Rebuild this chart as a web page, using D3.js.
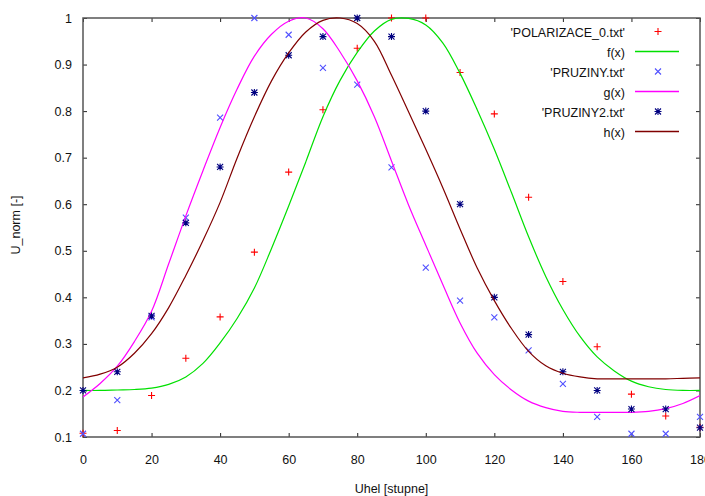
<!DOCTYPE html>
<html>
<head>
<meta charset="utf-8">
<script src="https://cdn.jsdelivr.net/npm/d3@7"></script>
<style>
  body { margin: 0; background: #fff; }
  text { font-family: "Liberation Sans", Arial, sans-serif; font-size: 12.5px; fill: #111; }
</style>
</head>
<body>
<div id="chart"></div>
<script>
// measured angles
const angles = [0, 10, 20, 30, 40, 50, 60, 70, 80, 90, 100, 110, 120, 130, 140, 150, 160, 170, 180];
const polarizace = [0.108, 0.114, 0.189, 0.269, 0.358, 0.497, 0.669, 0.803, 0.935, 1.0, 1.0, 0.883, 0.794, 0.615, 0.434, 0.294, 0.192, 0.145, 0.121];
const pruziny = [0.107, 0.179, 0.357, 0.571, 0.786, 1.0, 0.964, 0.893, 0.857, 0.679, 0.464, 0.393, 0.357, 0.286, 0.214, 0.143, 0.107, 0.107, 0.143];
const pruziny2 = [0.2, 0.24, 0.36, 0.56, 0.68, 0.84, 0.92, 0.96, 1.0, 0.96, 0.8, 0.6, 0.4, 0.32, 0.24, 0.2, 0.16, 0.16, 0.12];

const curveX = [0, 5, 10, 15, 20, 25, 30, 35, 40, 45, 50, 55, 60, 65, 70, 75, 80, 85, 90, 95, 100, 105, 110, 115, 120, 125, 130, 135, 140, 145, 150, 155, 160, 165, 170, 175, 180];
const fVals = [0.200, 0.200, 0.201, 0.202, 0.205, 0.213, 0.229, 0.258, 0.302, 0.355, 0.420, 0.505, 0.596, 0.691, 0.788, 0.866, 0.926, 0.972, 0.997, 0.999, 0.985, 0.946, 0.881, 0.803, 0.718, 0.625, 0.530, 0.445, 0.374, 0.316, 0.272, 0.242, 0.220, 0.208, 0.202, 0.200, 0.200];
const gVals = [0.186, 0.215, 0.252, 0.305, 0.370, 0.472, 0.575, 0.672, 0.765, 0.848, 0.918, 0.965, 0.993, 1.000, 0.977, 0.927, 0.865, 0.788, 0.693, 0.598, 0.512, 0.427, 0.345, 0.280, 0.234, 0.201, 0.177, 0.163, 0.155, 0.153, 0.153, 0.153, 0.153, 0.155, 0.161, 0.172, 0.189];
const hVals = [0.227, 0.235, 0.250, 0.280, 0.322, 0.378, 0.447, 0.522, 0.604, 0.700, 0.788, 0.865, 0.925, 0.970, 0.995, 1.000, 0.988, 0.950, 0.877, 0.798, 0.718, 0.635, 0.547, 0.463, 0.393, 0.333, 0.284, 0.253, 0.237, 0.229, 0.225, 0.225, 0.225, 0.225, 0.225, 0.226, 0.227];

const xTicks = [0, 20, 40, 60, 80, 100, 120, 140, 160, 180];
const yTicks = [0.1, 0.2, 0.3, 0.4, 0.5, 0.6, 0.7, 0.8, 0.9, 1];

const width = 705, height = 496;
const margin = { top: 18, right: 5, bottom: 59, left: 83 };

const svg = d3.select("#chart").append("svg")
    .attr("width", width)
    .attr("height", height);

const x = d3.scaleLinear().domain([0, 180]).range([margin.left, width - margin.right]);
const y = d3.scaleLinear().domain([0.1, 1]).range([height - margin.bottom, margin.top]);

// axes (gnuplot style: inward ticks, mirrored)
function styleAxis(g) {
  g.select(".domain").remove();
  g.selectAll(".tick line").attr("stroke", "#222");
  g.selectAll("text").style("font-family", "Liberation Sans, Arial, sans-serif").style("font-size", "12.5px").attr("fill", "#111");
}

svg.append("g")
    .attr("transform", `translate(0,${y(0.1)})`)
    .call(d3.axisBottom(x).tickValues(xTicks).tickSizeInner(-4).tickSizeOuter(0).tickPadding(18))
    .call(styleAxis);

svg.append("g")
    .attr("transform", `translate(0,${y(1)})`)
    .call(d3.axisTop(x).tickValues(xTicks).tickSizeInner(-4).tickSizeOuter(0).tickFormat(""))
    .call(styleAxis);

svg.append("g")
    .attr("transform", `translate(${x(0)},0)`)
    .call(d3.axisLeft(y).tickValues(yTicks).tickSizeInner(-4).tickSizeOuter(0).tickPadding(11).tickFormat(d3.format("~g")))
    .call(styleAxis);

svg.append("g")
    .attr("transform", `translate(${x(180)},0)`)
    .call(d3.axisRight(y).tickValues(yTicks).tickSizeInner(-4).tickSizeOuter(0).tickFormat(""))
    .call(styleAxis);

// border
svg.append("rect")
    .attr("x", x(0))
    .attr("y", y(1))
    .attr("width", x(180) - x(0))
    .attr("height", y(0.1) - y(1))
    .attr("fill", "none")
    .attr("stroke", "#555")
    .attr("stroke-width", 1.5);

// axis titles
svg.append("text")
    .attr("x", (x(0) + x(180)) / 2)
    .attr("y", 490)
    .attr("text-anchor", "middle")
    .attr("dominant-baseline", "middle")
    .text("Uhel [stupne]");

svg.append("text")
    .attr("transform", `translate(17,225) rotate(-90)`)
    .attr("text-anchor", "middle")
    .attr("dominant-baseline", "middle")
    .text("U_norm [-]");

// clip for the curves
svg.append("clipPath").attr("id", "plot-clip")
  .append("rect")
    .attr("x", x(0)).attr("y", y(1) - 1)
    .attr("width", x(180) - x(0)).attr("height", y(0.1) - y(1) + 2);

const line = d3.line()
    .x((d, i) => x(curveX[i]))
    .y(d => y(d))
    .curve(d3.curveCatmullRom.alpha(0.5));

const plus = "M-3.5,0H3.5M0,-3.5V3.5";
const cross = "M-3,-3L3,3M-3,3L3,-3";
const star = plus + cross;

const series = [
  { label: "'POLARIZACE_0.txt'", type: "points", values: polarizace, color: "#ff0000", symbol: plus },
  { label: "f(x)", type: "line", values: fVals, color: "#00e000" },
  { label: "'PRUZINY.txt'", type: "points", values: pruziny, color: "#5050ff", symbol: cross },
  { label: "g(x)", type: "line", values: gVals, color: "#ff00ff" },
  { label: "'PRUZINY2.txt'", type: "points", values: pruziny2, color: "#000080", symbol: star },
  { label: "h(x)", type: "line", values: hVals, color: "#800000" }
];

series.forEach(s => {
  if (s.type === "line") {
    svg.append("path")
        .datum(s.values)
        .attr("clip-path", "url(#plot-clip)")
        .attr("fill", "none")
        .attr("stroke", s.color)
        .attr("stroke-width", 1.2)
        .attr("d", line);
  } else {
    svg.append("g")
      .selectAll("path")
      .data(s.values)
      .join("path")
        .attr("transform", (d, i) => `translate(${x(angles[i])},${y(d)})`)
        .attr("d", s.symbol)
        .attr("fill", "none")
        .attr("stroke", s.color)
        .attr("stroke-width", 1.1);
  }
});

// legend
const legend = svg.append("g");
series.forEach((s, i) => {
  const ly = 31.5 + i * 20;
  legend.append("text")
      .attr("x", 625)
      .attr("y", ly + 2)
      .attr("text-anchor", "end")
      .attr("dominant-baseline", "middle")
      .text(s.label);
  if (s.type === "line") {
    legend.append("line")
        .attr("x1", 635).attr("x2", 679)
        .attr("y1", ly).attr("y2", ly)
        .attr("stroke", s.color)
        .attr("stroke-width", 1.5);
  } else {
    legend.append("path")
        .attr("transform", `translate(658,${ly})`)
        .attr("d", s.symbol)
        .attr("fill", "none")
        .attr("stroke", s.color)
        .attr("stroke-width", 1.1);
  }
});
</script>
</body>
</html>
